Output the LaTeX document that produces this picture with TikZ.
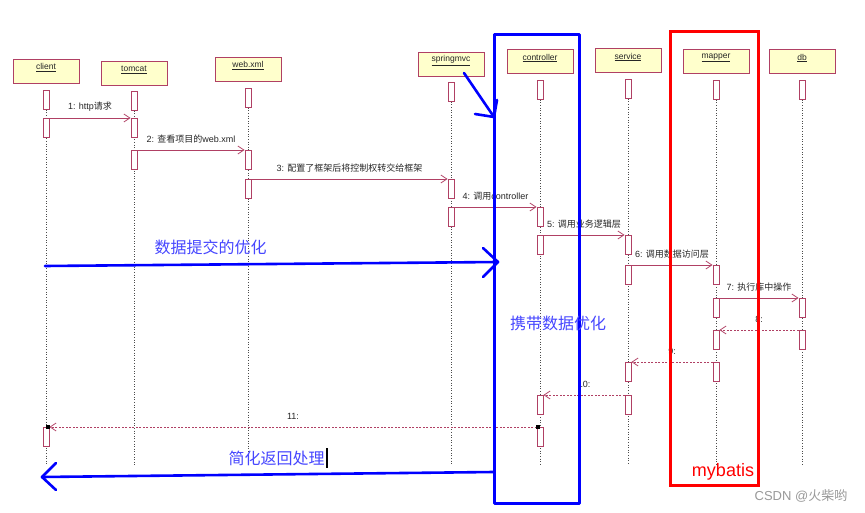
\documentclass[tikz,border=0pt]{standalone}
\usepackage{fontspec}
\setmainfont{Liberation Sans}
\newfontfamily\cjk{Noto Sans CJK SC}
\usetikzlibrary{arrows.meta}
\definecolor{umlred}{RGB}{176,64,100}
\definecolor{umlfill}{RGB}{255,255,204}
\definecolor{noteblue}{RGB}{70,70,255}
\begin{document}
\begin{tikzpicture}[x=1pt,y=-1pt,
  lbox/.style={draw=umlred, fill=umlfill, line width=0.8pt, minimum width=66pt, minimum height=24pt, inner sep=0pt},
  lname/.style={font=\fontsize{8.5}{10}\selectfont, inner sep=0pt, text=black!85},
  bar/.style={draw=umlred, fill=white, line width=0.8pt, minimum width=6pt, minimum height=19pt, inner sep=0pt, anchor=north},
  life/.style={draw=black!70, line width=0.7pt, dash pattern=on 0.8pt off 1.8pt},
  call/.style={draw=umlred, line width=0.8pt, -{Straight Barb[length=6pt,width=8pt]}},
  ret/.style={call, dash pattern=on 2pt off 1.5pt},
  msg/.style={font=\fontsize{9}{10}\selectfont, text=black!85, inner sep=0pt, yshift=11pt},
  bluepen/.style={draw=blue, line width=2.6pt, line cap=round, line join=round},
  redpen/.style={draw=red, line width=3pt},
  bluetext/.style={text=noteblue, font=\cjk\fontsize{16}{18}\selectfont, inner sep=0pt},
  endsq/.style={fill=black, minimum size=3.5pt, inner sep=0pt}
]
\useasboundingbox (0,0) rectangle (865,513);
\fill[white] (0,0) rectangle (865,513);

% lifeline heads
\node[lbox] (client) at (46,71) {};
\node[lbox] (tomcat) at (134,73) {};
\node[lbox] (webxml) at (248,69) {};
\node[lbox] (spring) at (451,64) {};
\node[lbox] (ctrl) at (540,61.5) {};
\node[lbox] (service) at (628,60.5) {};
\node[lbox] (mapper) at (716,61.5) {};
\node[lbox] (db) at (802,61.5) {};
\node[lname] at ([yshift=-9pt]client.north) {\underline{client}};
\node[lname] at ([yshift=-9pt]tomcat.north) {\underline{tomcat}};
\node[lname] at ([yshift=-9pt]webxml.north) {\underline{web.xml}};
\node[lname] at ([yshift=-9pt]spring.north) {\underline{springmvc}};
\node[lname] at ([yshift=-9pt]ctrl.north) {\underline{controller}};
\node[lname] at ([yshift=-9pt]service.north) {\underline{service}};
\node[lname] at ([yshift=-9pt]mapper.north) {\underline{mapper}};
\node[lname] at ([yshift=-9pt]db.north) {\underline{db}};

% first bars
\node[bar] (c1) at (46,90) {};
\node[bar] (t1) at (134,91) {};
\node[bar] (w1) at (248,88) {};
\node[bar] (s1) at (451,82) {};
\node[bar] (k1) at (540,80) {};
\node[bar] (v1) at (628,79) {};
\node[bar] (m1) at (716,80) {};
\node[bar] (d1) at (802,80) {};

% lifelines
\coordinate (cE) at (46,465);
\coordinate (tE) at (134,465);
\coordinate (wE) at (248,465);
\coordinate (sE) at (451,465);
\coordinate (kE) at (540,465);
\coordinate (vE) at (628,465);
\coordinate (mE) at (716,465);
\coordinate (dE) at (802,465);
\draw[life] (c1.south) -- (cE);
\draw[life] (t1.south) -- (tE);
\draw[life] (w1.south) -- (wE);
\draw[life] (s1.south) -- (sE);
\draw[life] (k1.south) -- (kE);
\draw[life] (v1.south) -- (vE);
\draw[life] (m1.south) -- (mE);
\draw[life] (d1.south) -- (dE);

% activation bars
\node[bar] (c2) at (46,118) {};
\node[bar] (c3) at (46,427) {};
\node[bar] (t2) at (134,118) {};
\node[bar] (t3) at (134,150) {};
\node[bar] (w2) at (248,150) {};
\node[bar] (w3) at (248,179) {};
\node[bar] (s2) at (451,179) {};
\node[bar] (s3) at (451,207) {};
\node[bar] (k2) at (540,207) {};
\node[bar] (k3) at (540,235) {};
\node[bar] (k4) at (540,395) {};
\node[bar] (k5) at (540,427) {};
\node[bar] (v2) at (628,235) {};
\node[bar] (v3) at (628,265) {};
\node[bar] (v4) at (628,362) {};
\node[bar] (v5) at (628,395) {};
\node[bar] (m2) at (716,265) {};
\node[bar] (m3) at (716,298) {};
\node[bar] (m4) at (716,330) {};
\node[bar] (m5) at (716,362) {};
\node[bar] (d2) at (802,298) {};
\node[bar] (d3) at (802,330) {};

% messages
\draw[call] (c2.north east) -- node[msg]{1: http{\cjk 请求}} (t2.north west);
\draw[call] (t3.north east) -- node[msg]{2: {\cjk 查看项目的}web.xml} (w2.north west);
\draw[call] (w3.north east) -- node[msg]{3: {\cjk 配置了框架后将控制权转交给框架}} (s2.north west);
\draw[call] (s3.north east) -- node[msg]{4: {\cjk 调用}controller} (k2.north west);
\draw[call] (k3.north east) -- node[msg]{5: {\cjk 调用业务逻辑层}} (v2.north west);
\draw[call] (v3.north east) -- node[msg]{6: {\cjk 调用数据访问层}} (m2.north west);
\draw[call] (m3.north east) -- node[msg]{7: {\cjk 执行库中操作}} (d2.north west);
\draw[ret] (d3.north west) -- node[msg]{8:} (m4.north east);
\draw[ret] (m5.north west) -- node[msg]{9:} (v4.north east);
\draw[ret] (v5.north west) -- node[msg]{10:} (k4.north east);
\draw[ret] (k5.north west) -- node[msg]{11:} (c3.north east);
\node[endsq] at ([xshift=1.5pt]k5.north west) {};
\node[endsq] at ([xshift=-1.5pt]c3.north east) {};

% blue annotations
\draw[bluepen, line width=3pt, line cap=butt] (494.5,35) rectangle (579.5,503.5);
\coordinate (sa) at (464,73);
\coordinate (sb) at (494,117);
\draw[bluepen] (sa) -- (sb);
\draw[bluepen] (475,114) -- (sb) -- (497,100);

\coordinate (pa) at (45,266);
\coordinate (pb) at (498,262);
\draw[bluepen] (pa) -- (pb);
\draw[bluepen] (483,248) -- (pb) -- (483,277);

\coordinate (ra) at (494,472);
\coordinate (rb) at (42,477);
\draw[bluepen] (ra) -- (rb);
\draw[bluepen] (56,463) -- (rb) -- (56,490);

\node[bluetext] (t1txt) at (210.5,247) {数据提交的优化};
\node[bluetext] (t2txt) at (558,323) {携带数据优化};
\node[bluetext] (t3txt) at (276.5,458) {简化返回处理};
\draw[black, line width=1.2pt] (327,448) -- (327,468);

% red annotation
\draw[redpen] (670.5,32) rectangle (758.5,485);
\node[text=red, font=\fontsize{18}{20}\selectfont, inner sep=0pt] (mb) at (723,472) {mybatis};

\node[text=black!40, font=\fontsize{13}{15}\selectfont, inner sep=0pt] (wm) at (801,496) {CSDN @{\cjk 火柴哟}};
\end{tikzpicture}
\end{document}
